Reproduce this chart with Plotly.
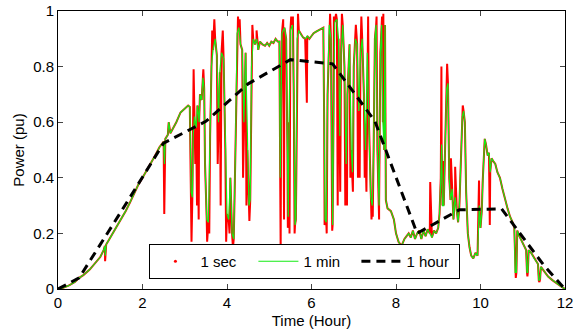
import plotly.graph_objects as go

# 1-hour averaged series
hour_t = [0, 0.5, 1.5, 2.5, 3.5, 4.5, 5.5, 6.5, 7.5, 8.5, 9.5, 10.5, 11.5, 12]
hour_p = [0, 0.04, 0.28, 0.525, 0.603, 0.738, 0.825, 0.81, 0.604, 0.20, 0.285, 0.288, 0.085, 0]

# 1-minute series (vertices)
min_t = [0, 0.1, 0.25, 0.4, 0.5, 0.6, 0.75, 0.9, 1.0, 1.08, 1.11, 1.12, 1.14, 1.2, 1.3, 1.4, 1.5, 1.6, 1.7, 1.8, 1.9, 2.0,
         2.1, 2.2, 2.3, 2.4, 2.48, 2.5, 2.52, 2.54, 2.6, 2.62, 2.66, 2.7, 2.8, 2.9, 3.0, 3.08,
         3.12, 3.15, 3.18, 3.2, 3.23, 3.27, 3.3, 3.34, 3.36, 3.4, 3.43, 3.46, 3.48, 3.52, 3.56, 3.6, 3.63, 3.67,
         3.72, 3.76, 3.8, 3.83, 3.87, 3.92, 3.96, 4.0, 4.04, 4.08, 4.12, 4.16, 4.2, 4.24, 4.28, 4.32, 4.36, 4.4,
         4.44, 4.48, 4.52, 4.55, 4.58, 4.62, 4.66, 4.7, 4.74, 4.78, 4.84, 4.9, 4.95, 5.0, 5.05, 5.1, 5.15, 5.2,
         5.24, 5.26, 5.28, 5.3, 5.36, 5.4, 5.43, 5.45, 5.47, 5.5, 5.55, 5.58, 5.61, 5.63, 5.66, 5.7,
         5.75, 5.8, 5.85, 5.9, 5.95, 6.0, 6.05, 6.1, 6.15, 6.2, 6.25,
         6.28, 6.3, 6.32, 6.35, 6.38, 6.42, 6.46, 6.48, 6.5, 6.52, 6.55, 6.6, 6.64, 6.67, 6.7, 6.74, 6.78, 6.82,
         6.85, 6.9, 6.94, 6.97, 7.0, 7.04, 7.08, 7.12, 7.16, 7.2, 7.24, 7.28, 7.32, 7.36, 7.4, 7.44, 7.47, 7.5,
         7.53, 7.56, 7.6, 7.63, 7.66, 7.69, 7.72, 7.74, 7.76, 7.8, 7.88, 7.95, 8.0, 8.06, 8.13, 8.2, 8.25, 8.3,
         8.35, 8.4, 8.45, 8.5, 8.55, 8.6, 8.65, 8.7, 8.75, 8.8, 8.85, 8.9, 8.95, 9.0,
         9.03, 9.06, 9.08, 9.1, 9.13, 9.16, 9.2, 9.23, 9.26, 9.29, 9.33, 9.36, 9.4, 9.44, 9.47, 9.5, 9.54, 9.57,
         9.6, 9.63, 9.66, 9.7, 9.74, 9.78, 9.83, 9.88, 9.93, 9.97, 10.0, 10.03, 10.07, 10.1, 10.13, 10.17, 10.2,
         10.23, 10.26, 10.3, 10.35, 10.4, 10.46, 10.52, 10.58, 10.64, 10.7, 10.76, 10.8, 10.82, 10.85, 10.87,
         10.92, 10.98, 11.05, 11.08, 11.1, 11.12, 11.14, 11.2, 11.27, 11.33, 11.36, 11.38, 11.41, 11.43, 11.5,
         11.6, 11.7, 11.8, 11.9, 12.0]
min_p = [0, 0.003, 0.012, 0.025, 0.04, 0.05, 0.07, 0.095, 0.115, 0.14, 0.155, 0.12, 0.16, 0.175, 0.2, 0.23, 0.255, 0.28, 0.31, 0.345, 0.375, 0.4,
         0.425, 0.455, 0.48, 0.51, 0.53, 0.53, 0.45, 0.54, 0.555, 0.6, 0.56, 0.57, 0.6, 0.635, 0.65, 0.66,
         0.655, 0.35, 0.33, 0.55, 0.62, 0.58, 0.66, 0.6, 0.7, 0.68, 0.76, 0.72, 0.45, 0.25, 0.24, 0.55, 0.8, 0.86,
         0.9, 0.84, 0.6, 0.78, 0.85, 0.83, 0.5, 0.27, 0.25, 0.4, 0.2, 0.18, 0.5, 0.92, 0.94, 0.88, 0.86, 0.6,
         0.85, 0.5, 0.3, 0.32, 0.8, 0.9, 0.88, 0.9, 0.86, 0.89, 0.88, 0.875, 0.885, 0.875, 0.89, 0.885, 0.9, 0.89,
         0.89, 0.4, 0.6, 0.92, 0.94, 0.9, 0.5, 0.26, 0.6, 0.93, 0.95, 0.7, 0.23, 0.25, 0.9, 0.93,
         0.915, 0.905, 0.9, 0.91, 0.9, 0.91, 0.92, 0.925, 0.93, 0.935, 0.94,
         0.94, 0.6, 0.25, 0.24, 0.7, 0.95, 0.9, 0.5, 0.23, 0.6, 0.96, 0.97, 0.9, 0.55, 0.85, 0.95, 0.8, 0.45,
         0.7, 0.88, 0.5, 0.42, 0.8, 0.9, 0.88, 0.64, 0.85, 0.9, 0.7, 0.5, 0.85, 0.6, 0.33, 0.3, 0.5, 0.9,
         0.95, 0.5, 0.3, 0.85, 0.95, 0.6, 0.5, 0.95, 0.32, 0.29, 0.28, 0.25, 0.2, 0.17, 0.155, 0.18, 0.19, 0.2,
         0.185, 0.21, 0.18, 0.2, 0.21, 0.18, 0.21, 0.19, 0.215, 0.2, 0.185, 0.21, 0.2, 0.22,
         0.27, 0.4, 0.52, 0.3, 0.3, 0.5, 0.72, 0.74, 0.4, 0.32, 0.36, 0.25, 0.33, 0.28, 0.24, 0.3, 0.45, 0.62,
         0.64, 0.6, 0.35, 0.2, 0.15, 0.12, 0.11, 0.13, 0.12, 0.3, 0.22, 0.28, 0.45, 0.54, 0.52, 0.48, 0.49,
         0.42, 0.47, 0.46, 0.45, 0.42, 0.4, 0.36, 0.32, 0.29, 0.26, 0.24, 0.22, 0.06, 0.06, 0.21,
         0.19, 0.17, 0.15, 0.14, 0.06, 0.06, 0.14, 0.13, 0.11, 0.095, 0.09, 0.03, 0.035, 0.08, 0.065,
         0.045, 0.032, 0.02, 0.01, 0.0]

# extra 1-second excursions beyond the 1-minute trace
spike_t = [1.115, 2.515, 3.16, 3.21, 3.25, 3.29, 3.33, 3.44, 3.53, 3.58, 3.65, 3.7, 3.78, 3.85, 3.9, 3.98,
           4.06, 4.14, 4.26, 4.3, 4.38, 4.46, 4.53, 4.6, 4.7, 5.27, 5.33, 5.35, 5.44, 5.48, 5.52, 5.56, 5.6,
           5.68, 5.89, 6.31, 6.36, 6.44, 6.49, 6.53, 6.58, 6.62, 6.68, 6.72, 6.8, 6.84, 6.92, 6.98, 7.05, 7.1,
           7.14, 7.18, 7.26, 7.3, 7.34, 7.42, 7.45, 7.54, 7.6, 7.67, 7.7, 8.81, 9.075, 9.12, 9.21, 9.3, 9.4,
           9.58, 9.965, 10.05, 10.22, 10.835, 11.11, 11.395]
spike_p = [0.10, 0.27, 0.17, 0.79, 0.45, 0.3, 0.25, 0.79, 0.17, 0.2, 0.93, 0.97, 0.45, 0.3, 0.93, 0.17,
           0.2, 0.15, 0.98, 0.97, 0.4, 0.3, 0.245, 0.95, 0.93, 0.14, 0.97, 0.25, 0.22, 0.2, 0.98, 0.98, 0.2,
           0.99, 0.67, 0.23, 0.2, 0.99, 0.21, 0.98, 0.99, 0.3, 0.35, 0.99, 0.3, 0.3, 0.4, 0.35, 0.95, 0.4,
           0.4, 0.98, 0.4, 0.35, 0.98, 0.25, 0.26, 0.98, 0.25, 0.98, 0.99, 0.385, 0.8, 0.46, 0.81, 0.47, 0.44,
           0.66, 0.39, 0.38, 0.23, 0.04, 0.045, 0.025]

sec_pairs = sorted(zip(min_t + spike_t, min_p + spike_p))
sec_t = [a for a, b in sec_pairs]
sec_p = [b for a, b in sec_pairs]

fig = go.Figure()
fig.add_trace(go.Scatter(x=sec_t, y=sec_p, mode="lines", line=dict(color="red", width=2.0),
                         showlegend=False, hoverinfo="skip"))
fig.add_trace(go.Scatter(x=[None], y=[None], mode="markers", marker=dict(color="red", size=3),
                         name="1 sec"))
fig.add_trace(go.Scatter(x=min_t, y=min_p, mode="lines", line=dict(color="rgb(20,235,20)", width=1.2),
                         name="1 min"))
fig.add_trace(go.Scatter(x=hour_t, y=hour_p, mode="lines",
                         line=dict(color="black", width=3, dash="9px,6px"), name="1 hour"))

font = "Liberation Sans, Arial, Helvetica, sans-serif"
fig.update_layout(
    width=573, height=335,
    margin=dict(l=58, r=8, t=11, b=46),
    paper_bgcolor="white", plot_bgcolor="white",
    font=dict(family=font, size=15, color="black"),
    xaxis=dict(range=[0, 12], tickvals=[0, 2, 4, 6, 8, 10, 12], ticks="inside", ticklen=5,
               showline=True, linecolor="black", linewidth=1, mirror="ticks", showgrid=False,
               zeroline=False, automargin=False, ticklabeloverflow="allow",
               title=dict(text="Time (Hour)", standoff=5, font=dict(size=15))),
    yaxis=dict(range=[0, 1], tickvals=[0, 0.2, 0.4, 0.6, 0.8, 1], ticktext=["0", "0.2", "0.4", "0.6", "0.8", "1"],
               ticks="inside", ticklen=5,
               showline=True, linecolor="black", linewidth=1, mirror="ticks", showgrid=False,
               zeroline=False, automargin=False, ticklabeloverflow="allow",
               title=dict(text="Power (pu)", standoff=4, font=dict(size=15))),
    legend=dict(orientation="h", x=0.487, xanchor="center", y=0.036, yanchor="bottom",
                bgcolor="white", bordercolor="black", borderwidth=1, font=dict(size=15),
                entrywidth=48, itemwidth=40),
)
fig.write_html("out.html", config={"displayModeBar": False},
               post_script="document.body.style.margin='0px';")
